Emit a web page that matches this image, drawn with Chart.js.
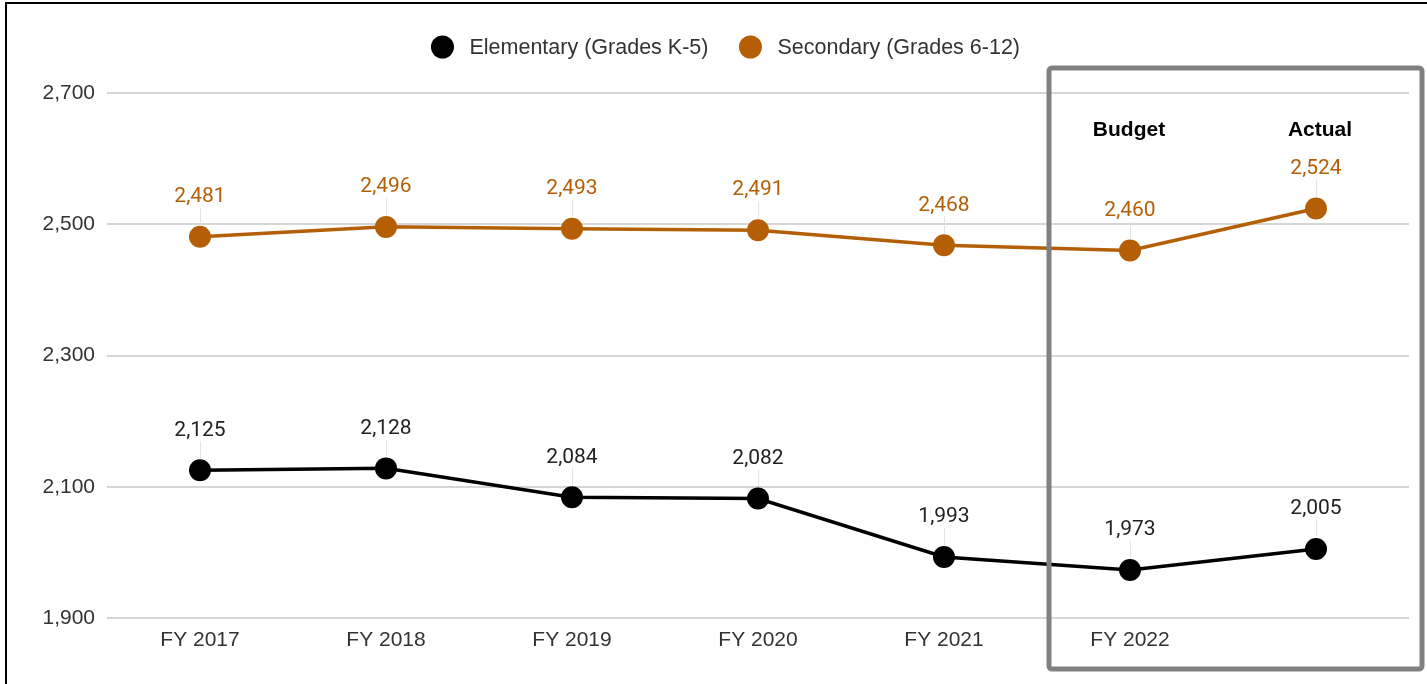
<!DOCTYPE html>
<html><head><meta charset="utf-8">
<script src="https://cdn.jsdelivr.net/npm/chart.js@4"></script>
<style>
html,body{margin:0;padding:0;background:#fff;}
#wrap{position:relative;width:1427px;height:684px;overflow:hidden;background:#fff;}
#frame{position:absolute;left:5px;top:2px;width:1440px;height:700px;border-left:2px solid #000;border-top:2px solid #000;pointer-events:none;}
canvas{position:absolute;left:0;top:0;}
</style></head><body>
<div id="wrap"><canvas id="c" width="1427" height="684"></canvas><div id="frame"></div></div>
<script>
const categories = ['FY 2017','FY 2018','FY 2019','FY 2020','FY 2021','FY 2022',''];
const elementary = [2125,2128,2084,2082,1993,1973,2005];
const secondary = [2481,2496,2493,2491,2468,2460,2524];
const yTicks = [1900,2100,2300,2500,2700];
const seriesNames = ['Elementary (Grades K-5)','Secondary (Grades 6-12)'];
const boxNotes = ['Budget','Actual'];
const boxIndexes = [5,6];

const ORANGE = '#b45f06';
const BLACK = '#000000';
const TICK_FONT = '"Liberation Sans", Arial, sans-serif';

const labelPlugin = {
  id: 'pointLabels',
  afterDatasetsDraw(chart) {
    const ctx = chart.ctx;
    chart.data.datasets.forEach((ds, di) => {
      const meta = chart.getDatasetMeta(di);
      meta.data.forEach((pt, i) => {
        const x = pt.x, y = pt.y;
        ctx.save();
        ctx.strokeStyle = '#e3e3e3';
        ctx.lineWidth = 1;
        ctx.beginPath();
        ctx.moveTo(Math.round(x) + 0.5, y - 12);
        ctx.lineTo(Math.round(x) + 0.5, y - 29);
        ctx.stroke();
        ctx.fillStyle = di === 0 ? '#222222' : ORANGE;
        ctx.font = '21px Roboto, sans-serif';
        ctx.textAlign = 'center';
        ctx.textBaseline = 'middle';
        ctx.fillText(ds.data[i].toLocaleString('en-US'), x, y - 40);
        ctx.restore();
      });
    });
  },
  afterDraw(chart) {
    const ctx = chart.ctx;
    const xs = chart.scales.x, ys = chart.scales.y, ca = chart.chartArea;
    // legend
    ctx.save();
    ctx.font = '21.5px ' + TICK_FONT;
    ctx.textBaseline = 'middle';
    const r = 11.5, gapText = 27, gapItem = 42;
    const w1 = ctx.measureText(seriesNames[0]).width;
    const w2 = ctx.measureText(seriesNames[1]).width;
    const total = r + gapText + w1 + gapItem + gapText + w2;
    let cx = chart.width / 2 + 12 - total / 2 + r;
    const ly = 47;
    const colors = [BLACK, ORANGE];
    [w1, w2].forEach((w, k) => {
      ctx.fillStyle = colors[k];
      ctx.beginPath(); ctx.arc(cx, ly, r, 0, Math.PI * 2); ctx.fill();
      ctx.fillStyle = '#333333';
      ctx.textAlign = 'left';
      ctx.fillText(seriesNames[k], cx + gapText, ly + 1);
      cx = cx + gapText + w + gapItem;
    });
    ctx.restore();
    // highlight box
    const x4 = xs.getPixelForValue(4), x5 = xs.getPixelForValue(5);
    const left = (x4 + x5) / 2 + 12;
    const right = ca.right + 13;
    const top = ys.getPixelForValue(2700) - 25;
    const bottom = ca.bottom + 51;
    ctx.save();
    ctx.strokeStyle = '#808080';
    ctx.lineWidth = 5;
    ctx.beginPath();
    if (ctx.roundRect) ctx.roundRect(left, top, right - left, bottom - top, 3);
    else ctx.rect(left, top, right - left, bottom - top);
    ctx.stroke();
    ctx.fillStyle = '#000';
    ctx.font = 'bold 21px ' + TICK_FONT;
    ctx.textAlign = 'center';
    ctx.textBaseline = 'middle';
    boxNotes.forEach((t, k) => {
      ctx.fillText(t, xs.getPixelForValue(boxIndexes[k]) + (k === 1 ? 4 : -1), top + 62);
    });
    ctx.restore();
  }
};

new Chart(document.getElementById('c'), {
  type: 'line',
  data: {
    labels: categories,
    datasets: [
      { label: seriesNames[0], data: elementary, borderColor: BLACK, backgroundColor: BLACK,
        borderWidth: 3.5, pointRadius: 11, pointHoverRadius: 11, pointBackgroundColor: BLACK, pointBorderWidth: 0, tension: 0 },
      { label: seriesNames[1], data: secondary, borderColor: ORANGE, backgroundColor: ORANGE,
        borderWidth: 3.5, pointRadius: 11, pointHoverRadius: 11, pointBackgroundColor: ORANGE, pointBorderWidth: 0, tension: 0 }
    ]
  },
  options: {
    responsive: false,
    animation: false,
    devicePixelRatio: 1,
    layout: { padding: { top: 93, right: 18, left: 0, bottom: 0 } },
    plugins: { legend: { display: false }, tooltip: { enabled: false } },
    scales: {
      x: {
        offset: true,
        grid: { display: false, drawTicks: false },
        border: { display: false },
        ticks: { color: '#333333', font: { family: TICK_FONT, size: 21 }, padding: 10, maxRotation: 0, autoSkip: false },
        afterFit(scale) { scale.height = 66; }
      },
      y: {
        min: 1900, max: 2700,
        grid: { color: '#d6d6d6', lineWidth: 2, drawTicks: false },
        border: { display: false },
        ticks: { color: '#333333', font: { family: TICK_FONT, size: 21 }, padding: 12,
          callback: (v) => Number(v).toLocaleString('en-US') },
        afterBuildTicks(scale) { scale.ticks = yTicks.map(v => ({ value: v })); },
        afterFit(scale) { scale.width = 107; }
      }
    }
  },
  plugins: [labelPlugin]
});
</script>
</body></html>
